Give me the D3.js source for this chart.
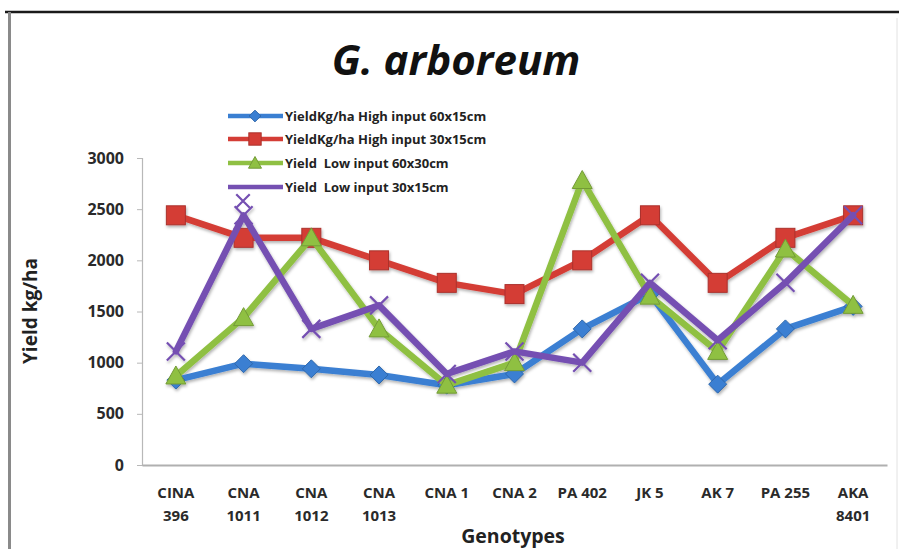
<!DOCTYPE html>
<html>
<head>
<meta charset="utf-8">
<script src="https://cdn.jsdelivr.net/npm/d3@7/dist/d3.min.js"></script>
<style>
  html, body { margin: 0; padding: 0; background: #fff; }
  svg { display: block; }
  text { font-family: "Open Sans", Lato, sans-serif; }
</style>
</head>
<body>
<svg id="chart" width="899" height="549"></svg>
<script>
// Genotypes on the x axis
const categories = ["CINA 396", "CNA 1011", "CNA 1012", "CNA 1013", "CNA 1", "CNA 2",
                    "PA 402", "JK 5", "AK 7", "PA 255", "AKA 8401"];
// Tick labels, split across two lines where the axis wraps them
const tickLabels = [["CINA", "396"], ["CNA", "1011"], ["CNA", "1012"], ["CNA", "1013"],
                    ["CNA 1"], ["CNA 2"], ["PA 402"], ["JK 5"], ["AK 7"], ["PA 255"], ["AKA", "8401"]];

// Yield (kg/ha) per series
const highInput60x15 = [830, 990, 940, 880, 780, 890, 1330, 1670, 790, 1330, 1550];
const highInput30x15 = [2440, 2220, 2220, 2000, 1780, 1670, 2000, 2440, 1780, 2220, 2440];
const lowInput60x30  = [870, 1440, 2220, 1330, 780, 1000, 2780, 1650, 1110, 2110, 1560];
const lowInput30x15  = [1110, 2440, 1330, 1560, 890, 1110, 1000, 1780, 1220, 1780, 2440];

const seriesNames = ["YieldKg/ha High input 60x15cm", "YieldKg/ha High input 30x15cm",
                     "Yield  Low input 60x30cm", "Yield  Low input 30x15cm"];
const yTicks = [0, 500, 1000, 1500, 2000, 2500, 3000];

const series = [
  { name: seriesNames[0], values: highInput60x15, color: "#3a7fd2", marker: "diamond" },
  { name: seriesNames[1], values: highInput30x15, color: "#d43d36", marker: "square" },
  { name: seriesNames[2], values: lowInput60x30,  color: "#8fc043", marker: "triangle" },
  { name: seriesNames[3], values: lowInput30x15,  color: "#7550b2", marker: "cross" }
];

const svg = d3.select("#chart");

// soft drop shadow under the lines and markers
const defs = svg.append("defs");
const f = defs.append("filter").attr("id", "shadow")
  .attr("x", "-20%").attr("y", "-20%").attr("width", "140%").attr("height", "140%");
f.append("feDropShadow").attr("dx", 1).attr("dy", 2).attr("stdDeviation", 1.5)
  .attr("flood-color", "#000").attr("flood-opacity", 0.3);

// chart frame
svg.append("rect").attr("x", 0).attr("y", 0).attr("width", 899).attr("height", 549).attr("fill", "#fff");
svg.append("line").attr("x1", 5).attr("x2", 899).attr("y1", 12).attr("y2", 12)
  .attr("stroke", "#1a1a1a").attr("stroke-width", 2.5);
svg.append("line").attr("x1", 9.5).attr("x2", 9.5).attr("y1", 12).attr("y2", 549)
  .attr("stroke", "#8a8a8a").attr("stroke-width", 3);
svg.append("line").attr("x1", 897).attr("x2", 897).attr("y1", 18).attr("y2", 549)
  .attr("stroke", "#e2e2e2").attr("stroke-width", 1);

const plotLeft = 142, plotRight = 887, plotTop = 158, plotBottom = 465;

const x = d3.scaleBand().domain(categories).range([plotLeft, plotRight]).padding(0);
const cx = c => x(c) + x.bandwidth() / 2;
const y = d3.scaleLinear().domain([0, 3000]).range([plotBottom, plotTop]);

// title
svg.append("text").attr("x", 456).attr("y", 75).attr("text-anchor", "middle")
  .attr("font-size", 42).attr("font-weight", "bold").attr("font-style", "italic")
  .attr("fill", "#111").text("G. arboreum");

// y axis
const yAxis = svg.append("g").attr("transform", `translate(${plotLeft},0)`)
  .call(d3.axisLeft(y).tickValues(yTicks).tickFormat(d3.format("d")).tickSize(5).tickPadding(13));
yAxis.select(".domain").attr("stroke", "#b8b8b8").attr("stroke-width", 1.2);
yAxis.selectAll(".tick line").attr("stroke", "#b8b8b8");
yAxis.selectAll(".tick text").attr("font-size", 16).attr("font-weight", "bold")
  .attr("fill", "#2a2a2a").attr("font-family", "'Open Sans', sans-serif");

// x axis
const xAxis = svg.append("g").attr("transform", `translate(0,${plotBottom})`)
  .call(d3.axisBottom(x).tickSize(0).tickFormat(""));
xAxis.select(".domain").attr("stroke", "#b0b0b0").attr("stroke-width", 2.2);
xAxis.selectAll(".tick").each(function (d, i) {
  const t = d3.select(this).append("text")
    .attr("fill", "#2a2a2a").attr("font-size", 15).attr("font-weight", "bold")
    .attr("text-anchor", "middle").attr("font-family", "'Open Sans', sans-serif");
  tickLabels[i].forEach((ln, j) => {
    t.append("tspan").attr("x", 0).attr("y", 33 + j * 23).text(ln);
  });
});

// axis titles
svg.append("text").attr("transform", "translate(37,311) rotate(-90)")
  .attr("text-anchor", "middle").attr("font-size", 19).attr("font-weight", "bold")
  .attr("fill", "#222").text("Yield kg/ha");
svg.append("text").attr("x", 513).attr("y", 543).attr("text-anchor", "middle")
  .attr("font-size", 19.5).attr("font-weight", "bold").attr("fill", "#222").text("Genotypes");

// marker shapes
function drawMarker(g, type, color, px, py, scale) {
  const s = scale || 1;
  if (type === "diamond") {
    const r = 9 * s;
    g.append("path").attr("d", `M${px},${py - r}L${px + r},${py}L${px},${py + r}L${px - r},${py}Z`)
      .attr("fill", color).attr("stroke", d3.color(color).darker(0.6)).attr("stroke-width", 1);
  } else if (type === "square") {
    const r = 9.5 * s;
    g.append("rect").attr("x", px - r).attr("y", py - r).attr("width", 2 * r).attr("height", 2 * r)
      .attr("fill", color).attr("stroke", d3.color(color).darker(0.6)).attr("stroke-width", 1);
  } else if (type === "triangle") {
    const r = 10 * s;
    g.append("path").attr("d", `M${px},${py - r}L${px + r},${py + r * 0.8}L${px - r},${py + r * 0.8}Z`)
      .attr("fill", color).attr("stroke", d3.color(color).darker(0.6)).attr("stroke-width", 1);
  } else {
    const r = 9 * s;
    g.append("path").attr("d", `M${px - r},${py - r}L${px + r},${py + r}M${px - r},${py + r}L${px + r},${py - r}`)
      .attr("stroke", color).attr("stroke-width", 2.2).attr("fill", "none");
  }
}

// series lines and markers
const line = d3.line().x((d, i) => cx(categories[i])).y(d => y(d));
const plot = svg.append("g").attr("filter", "url(#shadow)");
series.forEach(s => {
  const g = plot.append("g");
  g.append("path").datum(s.values).attr("d", line)
    .attr("fill", "none").attr("stroke", s.color).attr("stroke-width", 6.5)
    .attr("stroke-linejoin", "round").attr("stroke-linecap", "round");
  s.values.forEach((v, i) => drawMarker(g, s.marker, s.color, cx(categories[i]), y(v)));
});

// legend
const legY = [116, 139, 163, 187];
const leg = svg.append("g");
series.forEach((s, i) => {
  const row = leg.append("g");
  row.append("line").attr("x1", 228).attr("x2", 283).attr("y1", legY[i]).attr("y2", legY[i])
    .attr("stroke", s.color).attr("stroke-width", 4.5);
  if (s.marker === "cross") {
    drawMarker(row, s.marker, s.color, 243, legY[i] + 14, 0.75);
  } else {
    drawMarker(row, s.marker, s.color, 255, legY[i], 0.65);
  }
  row.append("text").attr("x", 285).attr("y", legY[i] + 5)
    .attr("font-size", 13).attr("font-weight", "bold").attr("fill", "#222")
    .attr("xml:space", "preserve").style("white-space", "pre").text(s.name);
});
</script>
</body>
</html>
